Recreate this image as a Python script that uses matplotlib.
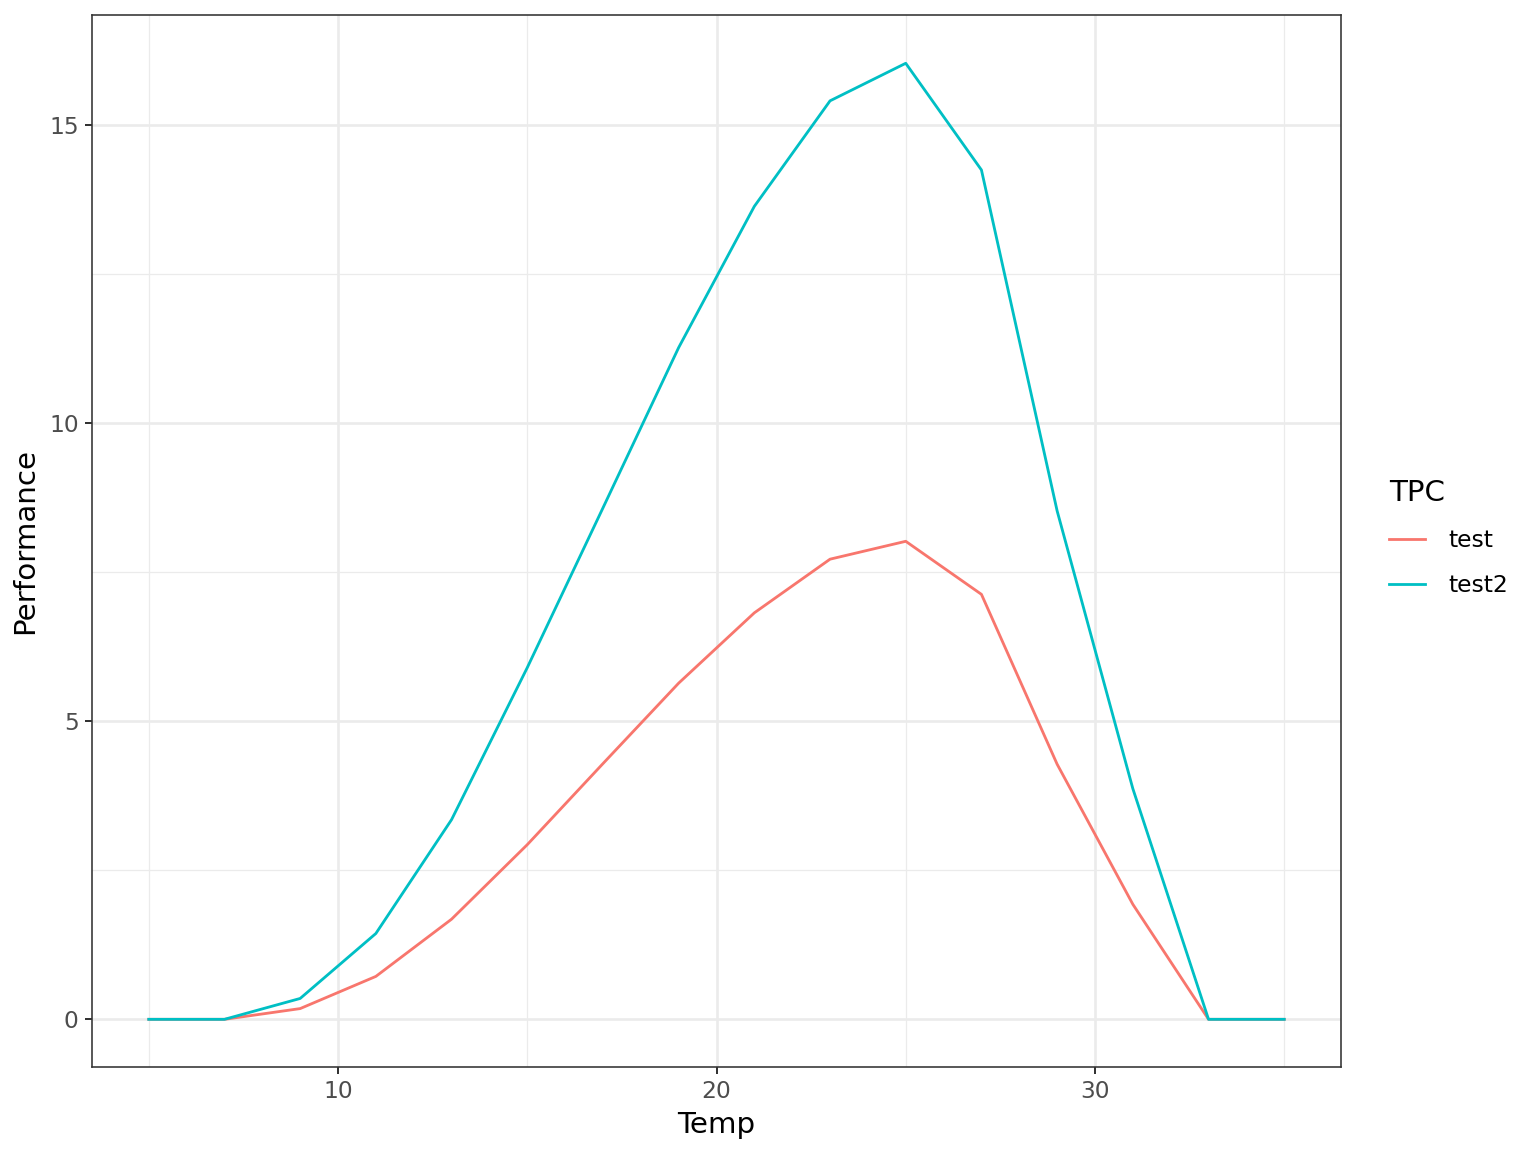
import matplotlib
matplotlib.use("Agg")
import matplotlib.pyplot as plt
from matplotlib.ticker import FixedLocator

temp = [5, 7, 9, 11, 13, 15, 17, 19, 21, 23, 25, 27, 29, 31, 33, 35]
perf_test = [0, 0, 0.18, 0.72, 1.68, 2.93, 4.29, 5.64, 6.82, 7.72, 8.02, 7.13, 4.28, 1.93, 0, 0]
perf_test2 = [0, 0, 0.35, 1.44, 3.35, 5.90, 8.58, 11.27, 13.64, 15.41, 16.04, 14.25, 8.53, 3.87, 0, 0]
series_names = ["test", "test2"]
colors = ["#F8766D", "#00BFC4"]
xticks = [10, 20, 30]
yticks = [0, 5, 10, 15]

plt.rcParams['font.family'] = ['DejaVu Sans']
fig = plt.figure(figsize=(1536/144, 1152/144), dpi=144)
ax = fig.add_axes([92/1536, 1 - 1067/1152, (1341-92)/1536, (1067-15)/1152])

for name, vals, c in zip(series_names, [perf_test, perf_test2], colors):
    ax.plot(temp, vals, color=c, lw=1.4, label=name, zorder=3)

ax.set_xlim(3.5, 36.5)
ax.set_ylim(-0.8, 16.85)
ax.xaxis.set_major_locator(FixedLocator(xticks))
ax.yaxis.set_major_locator(FixedLocator(yticks))
ax.xaxis.set_minor_locator(FixedLocator([5, 15, 25, 35]))
ax.yaxis.set_minor_locator(FixedLocator([2.5, 7.5, 12.5]))
ax.grid(which='major', color='#EBEBEB', lw=1.3, zorder=0)
ax.grid(which='minor', color='#EBEBEB', lw=0.65, zorder=0)
ax.set_axisbelow(True)
ax.tick_params(which='major', length=3.7, width=1.0, color='#333333', labelcolor='#4D4D4D', labelsize=11.7, pad=3)
ax.tick_params(which='minor', length=0)
for s in ax.spines.values():
    s.set_color('#333333')
    s.set_linewidth(0.8)

ax.set_xlabel("Temp", fontsize=14.7, color='black', labelpad=4)
ax.set_ylabel("Performance", fontsize=14.7, color='black', labelpad=5)

leg = ax.legend(title="TPC", loc='center left', bbox_to_anchor=(1.031, 0.503), frameon=False,
                fontsize=11.7, title_fontsize=14.7, handlelength=1.55, handletextpad=1.0, labelspacing=0.95,
                borderaxespad=0)
leg._legend_box.align = "left"
for line in leg.get_lines():
    line.set_linewidth(1.4)

fig.savefig("out.png", dpi=144, facecolor='white')
